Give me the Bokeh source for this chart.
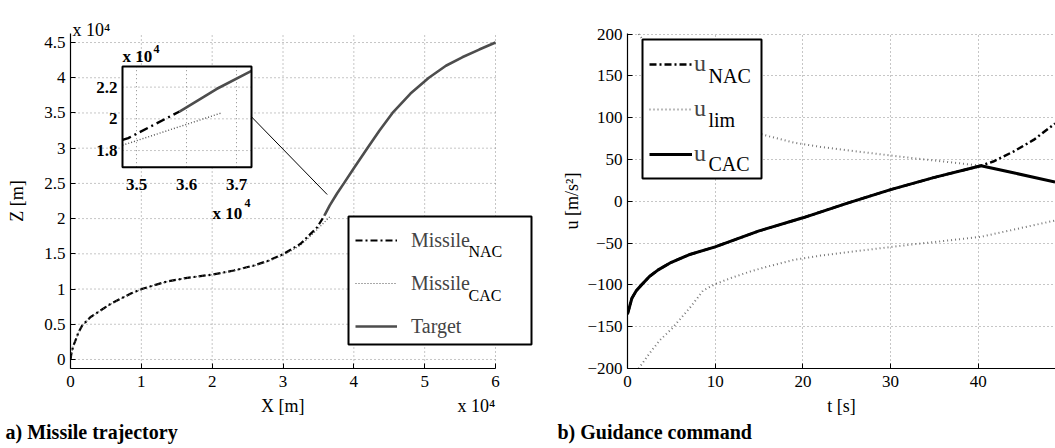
import math

from bokeh.core.properties import value
from bokeh.embed import file_html
from bokeh.layouts import row
from bokeh.models import (BoxAnnotation, CustomJSTickFormatter, FixedTicker,
                          Label, Legend, LegendItem, Range1d, Title)
from bokeh.plotting import figure
from bokeh.resources import INLINE

FONT = "Liberation Serif"
NBSP = "\u00a0"

# ---------------------------------------------------------------- a) trajectory
# horizontal range X and altitude Z, metres
nac_x = [0, 120, 350, 706, 1100, 1652, 2800, 4236, 5600, 7060, 8600, 10166,
         12000, 13654, 16478, 20093, 23058, 25882, 28000, 30118, 32476, 34835,
         35860]
nac_z = [0, 800, 1800, 2700, 3800, 4827, 6000, 6956, 7850, 8617, 9400, 10036,
         10600, 11073, 11593, 12067, 12635, 13344, 14050, 15005, 16425, 18782,
         20461]

cac_x = [0, 120, 350, 706, 1100, 1652, 2800, 4236, 5600, 7060, 8600, 10166,
         12000, 13654, 16478, 20093, 23058, 25882, 28000, 30118, 32476, 34835,
         35860, 36680]
cac_z = [0, 780, 1760, 2660, 3750, 4780, 5950, 6920, 7820, 8590, 9380, 10020,
         10590, 11060, 11580, 12050, 12600, 13290, 13960, 14880, 16180, 18450,
         19505, 20353]

target_x = [35860, 36600, 37650, 38590, 40000, 41880, 43600, 45460, 48000, 50590,
            53000, 55300, 57700, 60000]
target_z = [20460, 21880, 23600, 25000, 27150, 29950, 32480, 35000, 37750, 40000,
            41700, 42900, 44000, 45000]

x_ticks = [0, 10000, 20000, 30000, 40000, 50000, 60000]
z_ticks = [0, 5000, 10000, 15000, 20000, 25000, 30000, 35000, 40000, 45000]
x_axis_span = (0, 60000)
z_axis_span = (-1280, 46280)

# zoomed window around the interception
inset_x_range = (34720, 37300)
inset_z_range = (16950, 23300)
inset_x_ticks = [35000, 36000, 37000]
inset_x_labels = ["3.5", "3.6", "3.7"]
inset_z_ticks = [18000, 20000, 22000]
inset_z_labels = ["1.8", "2", "2.2"]

# ---------------------------------------------------------- b) guidance command
t_cac = [0, 0.5, 1, 1.6, 2.5, 3.5, 5, 7, 10, 15, 20, 25, 30, 35, 40.3, 44, 48.75]
u_cac = [-135, -116, -107, -100, -90, -82, -73, -64, -54.5, -35.5, -19.8, -2.5,
         13.9, 28.5, 42.5, 34, 23]

t_nac = [0, 0.5, 1, 1.6, 2.5, 3.5, 5, 7, 10, 15, 20, 25, 30, 35, 40.3, 41.7, 44,
         46.3, 48.75]
u_nac = [-135, -116, -107, -100, -90, -82, -73, -64, -54.5, -35.5, -19.8, -2.5,
         13.9, 28.5, 42.5, 47.5, 59.4, 73.3, 93]

t_lim = [0, 1.4, 2.5, 3.7, 5, 6, 7.3, 8.6, 10, 12, 14, 16, 19, 22, 25, 29, 33,
         36.5, 40.3, 44, 48.75]
u_lim = [220, 198, 182, 166, 153, 141, 125, 107, 99, 91, 84, 78, 70, 65, 61, 56,
         51, 47, 42.5, 34, 23]

t_ticks = [0, 10, 20, 30, 40]
u_ticks = [-200, -150, -100, -50, 0, 50, 100, 150, 200]

GRID_COLOR = "#8c8c8c"
GRID_DASH = "1 3"


def clip_polyline(xs, ys, box_x, box_y):
    """Clip a polyline to a rectangle (Liang-Barsky per segment)."""
    x0, x1 = box_x
    y0, y1 = box_y
    out_x, out_y = [], []
    for i in range(len(xs) - 1):
        ax, ay, bx, by = xs[i], ys[i], xs[i + 1], ys[i + 1]
        dx, dy = bx - ax, by - ay
        t0, t1 = 0.0, 1.0
        inside = True
        for pp, qq in ((-dx, ax - x0), (dx, x1 - ax), (-dy, ay - y0), (dy, y1 - ay)):
            if pp == 0:
                if qq < 0:
                    inside = False
                    break
            else:
                r = qq / pp
                if pp < 0:
                    t0 = max(t0, r)
                else:
                    t1 = min(t1, r)
        if not inside or t0 > t1:
            continue
        sx, sy = ax + t0 * dx, ay + t0 * dy
        ex, ey = ax + t1 * dx, ay + t1 * dy
        if out_x and math.isclose(out_x[-1], sx) and math.isclose(out_y[-1], sy):
            pass
        else:
            if out_x:
                out_x.append(float("nan"))
                out_y.append(float("nan"))
            out_x.append(sx)
            out_y.append(sy)
        out_x.append(ex)
        out_y.append(ey)
    return out_x, out_y


def style(p, tick_size="17px", label_size="18px"):
    p.outline_line_color = None
    p.background_fill_color = "white"
    for ax in (p.xaxis[0], p.yaxis[0]):
        ax.axis_line_color = "black"
        ax.axis_line_width = 1.2
        ax.major_tick_in = 5
        ax.major_tick_out = 0
        ax.major_tick_line_color = "black"
        ax.minor_tick_in = 0
        ax.minor_tick_out = 0
        ax.major_label_text_font = FONT
        ax.major_label_text_font_size = tick_size
        ax.major_label_text_color = "black"
        ax.axis_label_text_font = FONT
        ax.axis_label_text_font_size = label_size
        ax.axis_label_text_font_style = "normal"
        ax.axis_label_text_color = "black"
    for g in (p.xgrid[0], p.ygrid[0]):
        g.grid_line_color = GRID_COLOR
        g.grid_line_dash = GRID_DASH
        g.grid_line_width = 1


def text_label(p, x, y, text, size, bold=False, align="left"):
    p.add_layout(Label(x=x, y=y, x_units="screen", y_units="screen", text=text,
                       text_font=FONT, text_font_size=size,
                       text_font_style="bold" if bold else "normal",
                       text_align=align, text_baseline="middle",
                       text_color="black", level="overlay"))


def legend_box(p, left, right, bottom, top):
    # white panel with a black frame behind a transparent legend
    p.add_layout(BoxAnnotation(left=left, right=right, bottom=bottom, top=top,
                               left_units="screen", right_units="screen",
                               bottom_units="screen", top_units="screen",
                               fill_color="white", fill_alpha=1.0,
                               line_color="black", line_width=2,
                               line_alpha=1.0))


def caption(p, text, offset):
    p.add_layout(Title(text=text, align="left", offset=offset, standoff=0,
                       text_font=FONT, text_font_size="20px",
                       text_font_style="bold", text_color="black"), "below")


# ============================================================ left: trajectory
# the frame reaches the right canvas edge so the legend is not cut;
# axis lines and grid stop at the data span
p1 = figure(width=555, height=448, x_range=Range1d(0, 68470),
            y_range=Range1d(*z_axis_span), output_backend="svg",
            toolbar_location=None, min_border_left=70, min_border_right=0,
            min_border_top=33, min_border_bottom=80)
style(p1)
p1.xgrid.visible = False
p1.ygrid.visible = False
p1.xaxis.ticker = FixedTicker(ticks=x_ticks)
p1.yaxis.ticker = FixedTicker(ticks=z_ticks)
p1.xaxis.bounds = x_axis_span
scale4 = CustomJSTickFormatter(code="return String(tick / 10000);")
p1.xaxis.formatter = scale4
p1.yaxis.formatter = scale4
p1.xaxis.axis_label = NBSP * 29 + "X [m]" + NBSP * 34 + "x 10\u2074"
p1.yaxis.axis_label = "Z [m]"
p1.xaxis.major_label_standoff = 7
p1.yaxis.major_label_standoff = 5
p1.xaxis.axis_label_standoff = 6
p1.yaxis.axis_label_standoff = 14
p1.add_layout(Title(text="x 10\u2074", align="left", offset=2, standoff=-12,
                    text_font=FONT, text_font_size="18px",
                    text_font_style="normal", text_color="black"), "above")

n_x, n_z = len(x_ticks), len(z_ticks)
p1.segment(x0=x_ticks[1:], x1=x_ticks[1:], y0=[z_axis_span[0]] * (n_x - 1),
           y1=[z_axis_span[1]] * (n_x - 1), line_color=GRID_COLOR,
           line_dash=GRID_DASH, level="underlay")
p1.segment(x0=[x_axis_span[0]] * n_z, x1=[x_axis_span[1]] * n_z, y0=z_ticks,
           y1=z_ticks, line_color=GRID_COLOR, line_dash=GRID_DASH, level="underlay")

NAC_DASH = "7 3 2 3"
CAC_DOT = "1 2"
r_nac = p1.line(nac_x, nac_z, line_color="black", line_width=2.2, line_dash=NAC_DASH)
r_cac = p1.line(cac_x, cac_z, line_color="#555555", line_width=1.2, line_dash=CAC_DOT)
r_tgt = p1.line(target_x, target_z, line_color="#4d4d4d", line_width=2.6)

# inset: a zoomed sub-coordinate system placed in the upper-left of the axes
inset_target_x = (7341, 25554)
inset_target_z = (27299, 41594)
sub = p1.subplot(x_source=Range1d(*inset_x_range), y_source=Range1d(*inset_z_range),
                 x_target=Range1d(*inset_target_x), y_target=Range1d(*inset_target_z))
sub.quad(left=inset_x_range[0], right=inset_x_range[1], bottom=inset_z_range[0],
         top=inset_z_range[1], fill_color="white", line_color=None)
n_xt, n_zt = len(inset_x_ticks), len(inset_z_ticks)
sub.segment(x0=inset_x_ticks, x1=inset_x_ticks, y0=[inset_z_range[0]] * n_xt,
            y1=[inset_z_range[1]] * n_xt, line_color=GRID_COLOR, line_dash=GRID_DASH)
sub.segment(x0=[inset_x_range[0]] * n_zt, x1=[inset_x_range[1]] * n_zt,
            y0=inset_z_ticks, y1=inset_z_ticks, line_color=GRID_COLOR,
            line_dash=GRID_DASH)
cx, cz = clip_polyline(cac_x, cac_z, inset_x_range, inset_z_range)
sub.line(cx, cz, line_color="#555555", line_width=1.4, line_dash=CAC_DOT)
nx, nz = clip_polyline(nac_x, nac_z, inset_x_range, inset_z_range)
sub.line(nx, nz, line_color="black", line_width=2.4, line_dash="9 4 2 4")
tx, tz = clip_polyline(target_x, target_z, inset_x_range, inset_z_range)
sub.line(tx, tz, line_color="#4d4d4d", line_width=2.6)
sub.quad(left=inset_x_range[0], right=inset_x_range[1], bottom=inset_z_range[0],
         top=inset_z_range[1], fill_color=None, line_color="black", line_width=2)
sub.text(x=inset_x_ticks, y=[inset_z_range[0]] * n_xt, text=inset_x_labels,
         text_align="center", text_baseline="middle", y_offset=17,
         text_font=value(FONT), text_font_style="bold", text_font_size="17px",
         text_color="black")
sub.text(x=[inset_x_range[0]] * n_zt, y=inset_z_ticks, text=inset_z_labels,
         text_align="right", text_baseline="middle", x_offset=-5,
         text_font=value(FONT), text_font_style="bold", text_font_size="17px",
         text_color="black")

# leader line from the inset to the interception point
p1.segment(x0=inset_target_x[1], y0=(inset_target_z[0] + inset_target_z[1]) / 2,
           x1=36240, y1=23420, line_color="black", line_width=1)

legend_box(p1, 278, 461, 24, 152)
leg1 = Legend(items=[LegendItem(label="Missile", renderers=[r_nac]),
                     LegendItem(label="Missile", renderers=[r_cac]),
                     LegendItem(label="Target", renderers=[r_tgt])],
              location=(285, 27), padding=0, spacing=13, label_height=30,
              glyph_height=20, glyph_width=42, label_standoff=14, label_width=100,
              label_text_font=FONT, label_text_font_size="20px",
              border_line_color=None, background_fill_alpha=0.0, margin=0)
p1.add_layout(leg1)
text_label(p1, 398, 117, "NAC", "16px")
text_label(p1, 398, 73, "CAC", "16px")

# power-of-ten multipliers of the inset
text_label(p1, 52, 312, "x 10", "17px", bold=True)
text_label(p1, 83, 320, "4", "12px", bold=True)
text_label(p1, 142, 155, "x 10", "17px", bold=True)
text_label(p1, 174, 166, "4", "12px", bold=True)

caption(p1, "a) Missile trajectory", -65)

# ====================================================== right: guidance command
p2 = figure(width=500, height=448, x_range=Range1d(0, 48.8),
            y_range=Range1d(-200, 200.6), output_backend="svg",
            toolbar_location=None, min_border_left=72, min_border_right=0,
            min_border_top=32, min_border_bottom=80)
style(p2)
p2.xaxis.ticker = FixedTicker(ticks=t_ticks)
p2.yaxis.ticker = FixedTicker(ticks=u_ticks)
p2.xgrid.ticker = FixedTicker(ticks=t_ticks)
p2.ygrid.ticker = FixedTicker(ticks=u_ticks)
p2.yaxis.formatter = CustomJSTickFormatter(
    code="return tick < 0 ? '\u2212' + Math.abs(tick) : String(tick);")
p2.xaxis.axis_label = "t [s]"
p2.yaxis.axis_label = "u [m/s\u00b2]"
p2.xaxis.major_label_standoff = 7
p2.yaxis.major_label_standoff = 5
p2.xaxis.axis_label_standoff = 6
p2.yaxis.axis_label_standoff = 2

LIM_DOT = "1 3"
r2_nac = p2.line(t_nac, u_nac, line_color="black", line_width=2.5, line_dash=NAC_DASH)
r2_lim = p2.line(t_lim, u_lim, line_color="#777777", line_width=2, line_dash=LIM_DOT)
p2.line(t_lim, [-v for v in u_lim], line_color="#777777", line_width=2, line_dash=LIM_DOT)
r2_cac = p2.line(t_cac, u_cac, line_color="black", line_width=3)

legend_box(p2, 15, 134, 190, 329)
leg2 = Legend(items=[LegendItem(label="u", renderers=[r2_nac]),
                     LegendItem(label="u", renderers=[r2_lim]),
                     LegendItem(label="u", renderers=[r2_cac])],
              location=(22, 198), padding=0, spacing=12, label_height=33,
              glyph_height=20, glyph_width=43, label_standoff=2, label_width=40,
              label_text_font=FONT, label_text_font_size="24px",
              border_line_color=None, background_fill_alpha=0.0, margin=0)
p2.add_layout(leg2)
text_label(p2, 81, 293, "NAC", "20px")
text_label(p2, 81, 249, "lim", "20px")
text_label(p2, 81, 205, "CAC", "20px")

caption(p2, "b) Guidance command", -70)

layout = row(p1, p2)
open("out.html", "w").write(file_html(layout, INLINE))
